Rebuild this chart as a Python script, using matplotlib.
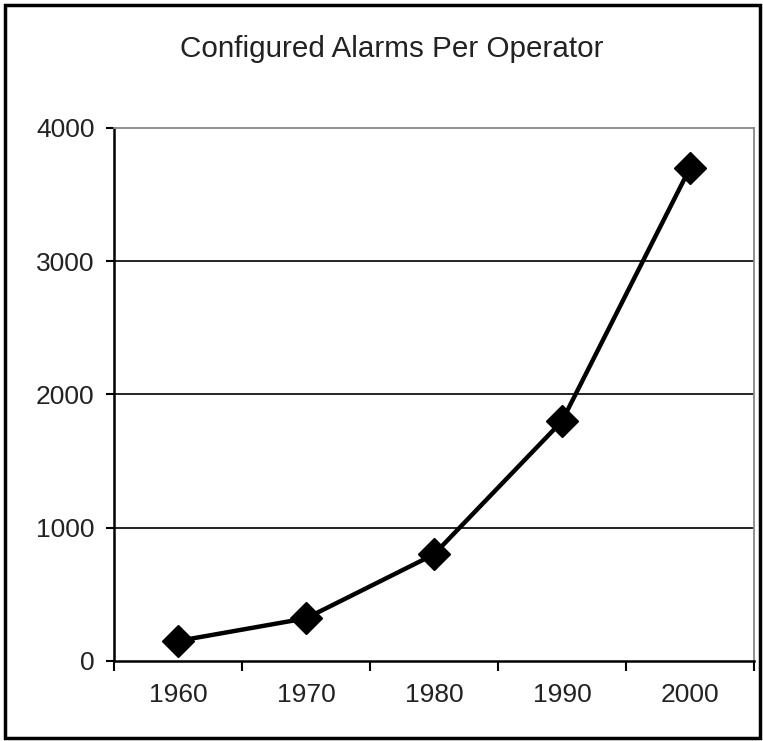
import matplotlib.pyplot as plt
from matplotlib.patches import Rectangle

years = ['1960', '1970', '1980', '1990', '2000']
alarms = [150, 320, 800, 1800, 3700]
y_ticks = [0, 1000, 2000, 3000, 4000]

plt.rcParams['font.family'] = ['Liberation Sans', 'DejaVu Sans']

fig = plt.figure(figsize=(7.63, 7.41), dpi=100)
ax = fig.add_axes([0.1494, 0.108, 0.8388, 0.7193])

x = list(range(len(years)))
ax.plot(x, alarms, color='black', linewidth=3.2, marker='D', markersize=16, zorder=3)

ax.set_xlim(-0.5, len(years) - 0.5)
ax.set_ylim(0, 4000)

# horizontal gridlines
for v in y_ticks[1:4]:
    ax.axhline(v, color='black', linewidth=1.2, zorder=1)

ax.set_yticks(y_ticks)
ax.set_yticklabels([str(v) for v in y_ticks], fontsize=19, color='#222222')
ax.set_xticks(x)
ax.set_xticklabels(years, fontsize=19, color='#222222')
ax.tick_params(axis='x', length=0, pad=16)
ax.tick_params(axis='y', length=6, width=1.5, pad=8, direction='out')

# tick marks between categories
ax.set_xticks([i - 0.5 for i in range(len(years) + 1)], minor=True)
ax.tick_params(axis='x', which='minor', length=7, width=1.5, direction='out')

ax.spines['left'].set_linewidth(1.8)
ax.spines['bottom'].set_linewidth(1.8)
ax.spines['top'].set_color('#888888')
ax.spines['right'].set_color('#888888')
ax.spines['top'].set_linewidth(1.3)
ax.spines['right'].set_linewidth(1.3)

fig.text(0.514, 0.934, 'Configured Alarms Per Operator', ha='center', va='center',
         fontsize=21.3, color='#222222')

# outer frame
fig.patches.append(Rectangle((0.006, 0.004), 0.99, 0.989, transform=fig.transFigure,
                             fill=False, edgecolor='black', linewidth=2.5))

fig.savefig('out.png', dpi=100)
